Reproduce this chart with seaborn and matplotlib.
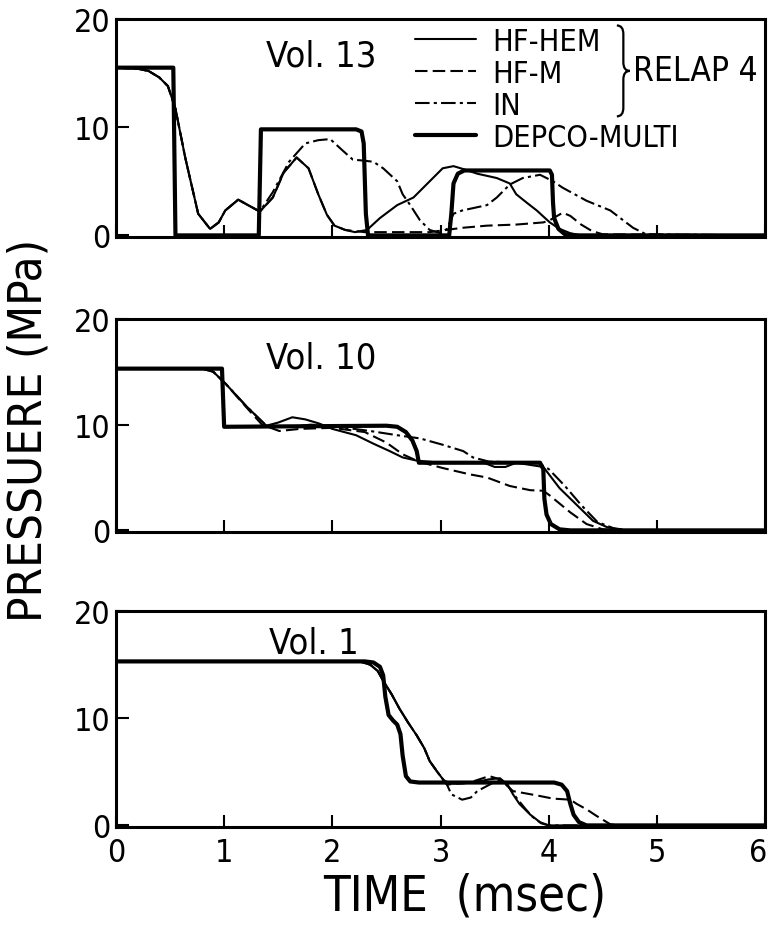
import matplotlib
matplotlib.use("Agg")
import numpy as np
import pandas as pd
import seaborn as sns
import matplotlib.pyplot as plt
from matplotlib.lines import Line2D
from matplotlib.path import Path
from matplotlib.patches import PathPatch
from matplotlib.transforms import ScaledTranslation

# ---------------- data ----------------
MODELS = ["HF-HEM", "HF-M", "IN", "DEPCO-MULTI"]
PANEL_TITLES = ["Vol. 13", "Vol. 10", "Vol. 1"]
X_TICKS = [0, 1, 2, 3, 4, 5, 6]
Y_TICKS = [0, 10, 20]

# Vol. 13
v13_depco_t = [0, 0.53, 0.55, 1.32, 1.34, 2.22, 2.27, 2.29, 2.31, 2.33, 3.08, 3.10, 3.12, 3.16, 3.22, 4.01, 4.03, 4.04, 4.05, 4.09, 4.15, 4.25, 6.0]
v13_depco_p = [15.5, 15.5, 0.0, 0.0, 9.8, 9.8, 9.6, 8.5, 2.0, 0.0, 0.0, 2.0, 4.8, 5.7, 6.0, 6.0, 5.6, 3.0, 1.6, 0.6, 0.1, 0.0, 0.0]
v13_hem_t = [0, 0.2, 0.3, 0.4, 0.48, 0.55, 0.64, 0.76, 0.87, 0.95, 1.01, 1.13, 1.22, 1.33, 1.45, 1.55, 1.67, 1.78, 1.87, 1.95, 2.02, 2.12, 2.21, 2.32, 2.44, 2.6, 2.75, 2.9, 3.02, 3.12, 3.22, 3.34, 3.52, 3.64, 3.7, 3.8, 3.89, 4.01, 4.1, 4.2, 4.3, 6.0]
v13_hem_p = [15.5, 15.4, 15.2, 14.6, 13.8, 11.7, 7.2, 2.0, 0.6, 1.2, 2.3, 3.3, 2.8, 2.2, 3.5, 5.8, 7.2, 6.2, 3.8, 1.9, 0.9, 0.5, 0.3, 0.5, 1.6, 2.8, 3.5, 5.0, 6.2, 6.4, 6.1, 5.7, 5.3, 4.8, 3.8, 3.0, 2.3, 1.2, 0.6, 0.2, 0.0, 0.0]
v13_hfm_t = [0, 0.2, 0.3, 0.4, 0.48, 0.55, 0.64, 0.76, 0.87, 0.95, 1.01, 1.13, 1.22, 1.33, 1.45, 1.55, 1.67, 1.78, 1.87, 1.95, 2.02, 2.12, 2.3, 2.6, 2.9, 3.2, 3.43, 3.7, 3.95, 4.01, 4.13, 4.2, 4.3, 4.4, 4.5, 6.0]
v13_hfm_p = [15.5, 15.4, 15.2, 14.6, 13.8, 11.7, 7.2, 2.0, 0.6, 1.2, 2.3, 3.3, 2.8, 2.2, 3.5, 5.8, 7.2, 6.2, 3.8, 1.9, 0.9, 0.5, 0.3, 0.3, 0.3, 0.7, 0.9, 1.0, 1.2, 1.4, 2.1, 1.8, 1.0, 0.4, 0.1, 0.0]
v13_in_t = [0, 0.2, 0.3, 0.4, 0.48, 0.55, 0.64, 0.76, 0.87, 0.95, 1.01, 1.13, 1.22, 1.33, 1.45, 1.6, 1.75, 1.87, 1.98, 2.1, 2.19, 2.3, 2.38, 2.47, 2.6, 2.65, 2.72, 2.81, 2.9, 3.0, 3.06, 3.12, 3.2, 3.43, 3.52, 3.64, 3.76, 3.92, 4.04, 4.13, 4.35, 4.57, 4.78, 4.9, 6.0]
v13_in_p = [15.5, 15.4, 15.2, 14.6, 13.8, 11.7, 7.2, 2.0, 0.6, 1.2, 2.3, 3.3, 2.8, 2.2, 4.0, 6.8, 8.5, 8.8, 8.9, 7.8, 7.0, 6.9, 6.8, 6.2, 5.0, 3.8, 2.8, 1.4, 0.5, 0.2, 0.6, 2.0, 2.3, 2.8, 3.5, 4.7, 5.3, 5.6, 5.0, 4.4, 3.2, 2.3, 0.7, 0.1, 0.0]

# Vol. 10
v10_depco_t = [0, 0.98, 1.0, 2.5, 2.6, 2.68, 2.74, 2.78, 2.8, 3.92, 3.95, 3.96, 3.98, 4.02, 4.1, 4.2, 6.0]
v10_depco_p = [15.3, 15.3, 9.8, 9.9, 9.8, 9.3, 8.5, 7.5, 6.4, 6.4, 5.8, 3.0, 1.5, 0.6, 0.1, 0.0, 0.0]
v10_hem_t = [0, 0.8, 0.9, 1.02, 1.2, 1.39, 1.5, 1.63, 1.75, 1.88, 2.0, 2.22, 2.38, 2.53, 2.65, 2.78, 3.0, 3.4, 3.5, 3.6, 3.7, 3.95, 4.1, 4.26, 4.41, 4.54, 4.7, 6.0]
v10_hem_p = [15.3, 15.3, 15.0, 13.8, 11.8, 9.9, 10.2, 10.7, 10.5, 10.1, 9.6, 9.0, 8.2, 7.5, 6.9, 6.6, 6.4, 6.4, 6.0, 6.0, 6.4, 6.0, 4.0, 2.4, 0.9, 0.3, 0.0, 0.0]
v10_hfm_t = [0, 0.8, 0.9, 1.02, 1.2, 1.35, 1.51, 1.7, 2.0, 2.3, 2.5, 2.65, 2.8, 3.02, 3.27, 3.43, 3.64, 3.83, 3.95, 4.01, 4.2, 4.35, 4.5, 4.6, 6.0]
v10_hfm_p = [15.3, 15.3, 15.0, 13.8, 11.7, 10.0, 9.4, 9.6, 9.7, 9.3, 8.3, 7.2, 6.5, 5.9, 5.3, 5.0, 4.2, 3.8, 3.75, 3.3, 1.7, 0.6, 0.1, 0.0, 0.0]
v10_in_t = [0, 0.8, 0.9, 1.02, 1.2, 1.4, 1.6, 1.8, 1.98, 2.35, 2.6, 2.81, 3.02, 3.21, 3.3, 3.45, 3.9, 4.0, 4.15, 4.3, 4.45, 4.6, 4.75, 6.0]
v10_in_p = [15.3, 15.3, 15.0, 13.8, 11.8, 9.8, 9.8, 10.0, 9.9, 9.4, 9.0, 8.7, 8.1, 7.5, 6.9, 6.5, 6.4, 5.8, 4.2, 2.4, 0.8, 0.2, 0.0, 0.0]

# Vol. 1
v1_depco_t = [0, 2.3, 2.38, 2.44, 2.47, 2.49, 2.52, 2.56, 2.6, 2.63, 2.65, 2.68, 2.72, 2.8, 4.05, 4.12, 4.17, 4.2, 4.23, 4.28, 4.35, 6.0]
v1_depco_p = [15.3, 15.3, 15.2, 14.8, 14.0, 12.0, 10.3, 9.8, 9.4, 8.5, 6.5, 4.6, 4.1, 4.0, 4.0, 3.8, 3.2, 2.0, 1.0, 0.3, 0.0, 0.0]
v1_hem_t = [0, 2.25, 2.35, 2.42, 2.47, 2.55, 2.62, 2.7, 2.78, 2.85, 2.9, 2.97, 3.03, 3.1, 3.2, 3.35, 3.45, 3.55, 3.62, 3.67, 3.73, 3.83, 3.92, 4.0, 6.0]
v1_hem_p = [15.3, 15.3, 15.0, 14.4, 13.5, 12.2, 10.9, 9.6, 8.4, 7.2, 6.0, 5.0, 4.2, 3.9, 3.9, 4.1, 4.3, 4.4, 3.8, 2.9, 2.0, 1.0, 0.3, 0.0, 0.0]
v1_hfm_t = [0, 2.25, 2.35, 2.42, 2.47, 2.55, 2.62, 2.7, 2.78, 2.85, 2.9, 2.97, 3.06, 3.3, 3.45, 3.55, 3.67, 3.89, 4.04, 4.2, 4.26, 4.35, 4.44, 4.57, 4.65, 6.0]
v1_hfm_p = [15.3, 15.3, 15.0, 14.4, 13.5, 12.2, 10.9, 9.6, 8.4, 7.2, 6.0, 5.0, 3.8, 4.1, 4.6, 4.3, 3.2, 2.8, 2.5, 2.4, 2.0, 1.5, 0.9, 0.1, 0.0, 0.0]
v1_in_t = [0, 2.25, 2.35, 2.42, 2.47, 2.55, 2.62, 2.7, 2.78, 2.85, 2.9, 2.97, 3.06, 3.1, 3.2, 3.28, 3.34, 3.49, 3.56, 3.63, 3.7, 3.78, 3.85, 3.93, 4.0, 6.0]
v1_in_p = [15.3, 15.3, 15.0, 14.4, 13.5, 12.2, 10.9, 9.6, 8.4, 7.2, 6.0, 5.0, 3.8, 2.9, 2.4, 2.6, 3.2, 4.0, 4.3, 3.6, 2.6, 1.6, 0.8, 0.2, 0.0, 0.0]

PANELS = [
    {"HF-HEM": (v13_hem_t, v13_hem_p), "HF-M": (v13_hfm_t, v13_hfm_p), "IN": (v13_in_t, v13_in_p), "DEPCO-MULTI": (v13_depco_t, v13_depco_p)},
    {"HF-HEM": (v10_hem_t, v10_hem_p), "HF-M": (v10_hfm_t, v10_hfm_p), "IN": (v10_in_t, v10_in_p), "DEPCO-MULTI": (v10_depco_t, v10_depco_p)},
    {"HF-HEM": (v1_hem_t, v1_hem_p), "HF-M": (v1_hfm_t, v1_hfm_p), "IN": (v1_in_t, v1_in_p), "DEPCO-MULTI": (v1_depco_t, v1_depco_p)},
]

# ---------------- style ----------------
sns.set_style("white")
plt.rcParams["font.family"] = ["DejaVu Sans"]
plt.rcParams["font.stretch"] = "condensed"
plt.rcParams["text.color"] = "black"
plt.rcParams["axes.labelcolor"] = "black"
plt.rcParams["xtick.color"] = "black"
plt.rcParams["ytick.color"] = "black"

DASHES = {"HF-HEM": "", "HF-M": (6, 2.5), "IN": (7, 2, 1.5, 2), "DEPCO-MULTI": ""}
SIZES = {"HF-HEM": 1.5, "HF-M": 1.5, "IN": 1.5, "DEPCO-MULTI": 3.0}
PALETTE = {m: "black" for m in MODELS}

fig = plt.figure(figsize=(7.7, 9.29), dpi=100)
positions = [
    [0.1506, 0.7438, 0.843, 0.2347],
    [0.1506, 0.4263, 0.843, 0.2293],
    [0.1506, 0.1087, 0.843, 0.2325],
]
title_pos = [(1.9, 16.6), (1.9, 16.4), (1.83, 17.1)]

axes = []
for i, (pos, pdata) in enumerate(zip(positions, PANELS)):
    ax = fig.add_axes(pos)
    axes.append(ax)
    frames = []
    for m in MODELS:
        t, p = pdata[m]
        frames.append(pd.DataFrame({"t": t, "P": p, "model": m}))
    df = pd.concat(frames, ignore_index=True)
    sns.lineplot(data=df, x="t", y="P", hue="model", style="model", size="model",
                 hue_order=MODELS, style_order=MODELS, size_order=MODELS,
                 palette=PALETTE, dashes=DASHES, sizes=SIZES,
                 sort=False, estimator=None, legend=False, ax=ax)
    ax.set_xlim(0, 6)
    ax.set_ylim(-0.15, 20)
    ax.set_xticks(X_TICKS)
    ax.set_yticks(Y_TICKS)
    ax.set_xlabel("")
    ax.set_ylabel("")
    for s in ax.spines.values():
        s.set_linewidth(2.2)
        s.set_color("black")
        s.set_visible(True)
    ax.tick_params(direction="in", length=9, width=1.5, colors="black",
                   labelsize=23, pad=4, bottom=True, left=True)
    if i < 2:
        ax.tick_params(labelbottom=False)
    else:
        ax.tick_params(axis="x", pad=7)
    ax.text(title_pos[i][0], title_pos[i][1], PANEL_TITLES[i], fontsize=26,
            ha="center", va="center", color="black")

# nudge the last x tick label so it stays inside the figure
last = axes[2].get_xticklabels()[-1]
last.set_transform(last.get_transform() + ScaledTranslation(-7 / 100, 0, fig.dpi_scale_trans))

# legend in top panel
ax0 = axes[0]
handles = [Line2D([], [], color="black", lw=SIZES[m],
                  linestyle=(0, DASHES[m]) if DASHES[m] else "-") for m in MODELS]
leg = ax0.legend(handles, MODELS, loc="upper left", bbox_to_anchor=(0.46, 0.965),
                 frameon=False, fontsize=22, handlelength=2.0, handletextpad=0.55,
                 labelspacing=0.1, borderaxespad=0.0, borderpad=0.0,
                 labelcolor="black")

# brace grouping the RELAP 4 models
bx0, bxm, bxp = 4.63, 4.69, 4.75
by_top, by_mid, by_bot, bc = 19.4, 15.2, 11.0, 0.8
brace = Path(
    [(bx0, by_top), (bxm, by_top), (bxm, by_top - bc), (bxm, by_mid + bc),
     (bxm, by_mid), (bxp, by_mid), (bxm, by_mid), (bxm, by_mid - bc),
     (bxm, by_bot + bc), (bxm, by_bot), (bx0, by_bot)],
    [Path.MOVETO, Path.CURVE3, Path.CURVE3, Path.LINETO,
     Path.CURVE3, Path.CURVE3, Path.CURVE3, Path.CURVE3,
     Path.LINETO, Path.CURVE3, Path.CURVE3])
ax0.add_patch(PathPatch(brace, fill=False, lw=1.6, color="black"))
ax0.text(4.78, 15.2, "RELAP 4", fontsize=24, ha="left", va="center", color="black")

fig.text(0.038, 0.537, "PRESSUERE (MPa)", rotation=90, fontsize=34,
         ha="center", va="center", color="black")
fig.text(0.604, 0.035, "TIME  (msec)", fontsize=35, ha="center", va="center",
         color="black")

fig.savefig("out.png", dpi=100)
